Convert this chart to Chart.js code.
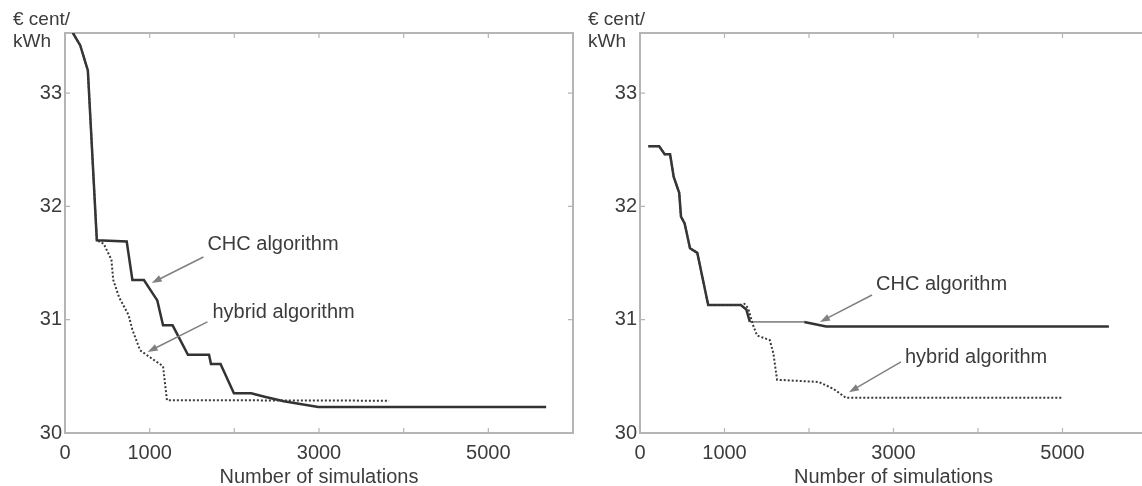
<!DOCTYPE html>
<html lang="en">
<head>
<meta charset="UTF-8">
<title>CHC vs hybrid algorithm</title>
<script src="https://cdn.jsdelivr.net/npm/chart.js"></script>
<style>
  html, body { margin: 0; padding: 0; background: #fff; overflow: hidden; }
  #wrap { position: relative; width: 1142px; height: 486px; overflow: hidden; }
  canvas { position: absolute; top: 0; }
  #leftChart { left: 0; }
  #rightChart { left: 575px; }
</style>
</head>
<body>
<div id="wrap">
  <canvas id="leftChart" width="578" height="492"></canvas>
  <canvas id="rightChart" width="580" height="492"></canvas>
</div>
<script>
// values (x = number of simulations, y = euro cent / kWh)
const leftChcX = [94, 180, 270, 376, 729, 796, 932, 1090, 1158, 1271, 1452, 1701, 1724, 1837, 1995, 2199, 2357, 2584, 2991, 5683];
const leftChcY = [33.53, 33.42, 33.2, 31.70, 31.69, 31.35, 31.35, 31.17, 30.95, 30.95, 30.69, 30.69, 30.61, 30.61, 30.35, 30.35, 30.32, 30.28, 30.23, 30.23];
const leftHybX = [94, 180, 270, 376, 457, 548, 570, 638, 751, 796, 887, 1000, 1158, 1204, 3828];
const leftHybY = [33.53, 33.42, 33.2, 31.70, 31.67, 31.53, 31.35, 31.2, 31.04, 30.91, 30.73, 30.67, 30.59, 30.29, 30.285];

const rightChcX = [99, 227, 292, 356, 399, 464, 485, 528, 592, 678, 807, 1193, 1258, 1300, 1944, 2202, 5549];
const rightChcY = [32.53, 32.53, 32.46, 32.46, 32.26, 32.12, 31.91, 31.85, 31.63, 31.59, 31.13, 31.13, 31.09, 30.98, 30.98, 30.94, 30.94];
const rightHybX = [99, 227, 292, 356, 399, 464, 485, 528, 592, 678, 807, 1193, 1236, 1280, 1343, 1386, 1536, 1579, 1622, 2116, 2288, 2438, 4991];
const rightHybY = [32.53, 32.53, 32.46, 32.46, 32.26, 32.12, 31.91, 31.85, 31.63, 31.59, 31.13, 31.13, 31.14, 31.10, 30.94, 30.86, 30.82, 30.70, 30.47, 30.45, 30.39, 30.31, 30.31];

const xLabels = [0, 1000, 3000, 5000];
const yLabels = [30, 31, 32, 33];
const unitLines = ['€ cent/', 'kWh'];
const xTitle = 'Number of simulations';

// annotation placement (data coordinates)
const leftNotes = [
  { text: 'CHC algorithm', at: [1682, 31.66], from: [1635, 31.553], to: [1024, 31.324] },
  { text: 'hybrid algorithm', at: [1741, 31.06], from: [1682, 30.98], to: [976, 30.715] }
];
const rightNotes = [
  { text: 'CHC algorithm', at: [2793, 31.31], from: [2746, 31.218], to: [2130, 30.98] },
  { text: 'hybrid algorithm', at: [3136, 30.67], from: [3089, 30.627], to: [2473, 30.36] }
];

const FONT = '"Liberation Sans", Arial, sans-serif';
Chart.defaults.font.family = FONT;
Chart.defaults.color = '#3c3c3c';

function pts(xs, ys) {
  return xs.map((x, i) => ({ x: x, y: ys[i] }));
}

// box round the plot with small inward ticks
const framePlugin = {
  id: 'frame',
  beforeDatasetsDraw(chart) {
    const { ctx, chartArea: a, scales: { x, y } } = chart;
    ctx.save();
    ctx.strokeStyle = '#b5b5b5';
    ctx.lineWidth = 2;
    ctx.strokeRect(a.left, a.top, a.right - a.left, a.bottom - a.top);
    ctx.lineWidth = 1.2;
    ctx.beginPath();
    x.ticks.forEach(t => {
      const px = x.getPixelForValue(t.value);
      ctx.moveTo(px, a.top); ctx.lineTo(px, a.top + 5);
      ctx.moveTo(px, a.bottom); ctx.lineTo(px, a.bottom - 5);
    });
    y.ticks.forEach(t => {
      const py = y.getPixelForValue(t.value);
      ctx.moveTo(a.left, py); ctx.lineTo(a.left + 5, py);
      ctx.moveTo(a.right, py); ctx.lineTo(a.right - 5, py);
    });
    ctx.stroke();
    ctx.restore();
  },
  afterDatasetsDraw(chart, args, opts) {
    const { ctx, chartArea: a, scales: { x, y } } = chart;
    ctx.save();
    // unit label above the y axis
    ctx.fillStyle = '#3c3c3c';
    ctx.font = '19px ' + FONT;
    ctx.textAlign = 'left';
    ctx.textBaseline = 'middle';
    ctx.fillText(unitLines[0], a.left - 52, 20);
    ctx.fillText(unitLines[1], a.left - 52, 42);

    (opts.notes || []).forEach(n => {
      ctx.font = '20px ' + FONT;
      ctx.fillStyle = '#3c3c3c';
      ctx.fillText(n.text, x.getPixelForValue(n.at[0]), y.getPixelForValue(n.at[1]));
      const x0 = x.getPixelForValue(n.from[0]), y0 = y.getPixelForValue(n.from[1]);
      const x1 = x.getPixelForValue(n.to[0]), y1 = y.getPixelForValue(n.to[1]);
      const ang = Math.atan2(y1 - y0, x1 - x0);
      ctx.strokeStyle = '#808080';
      ctx.fillStyle = '#808080';
      ctx.lineWidth = 1.5;
      ctx.beginPath();
      ctx.moveTo(x0, y0);
      ctx.lineTo(x1 - 6 * Math.cos(ang), y1 - 6 * Math.sin(ang));
      ctx.stroke();
      ctx.beginPath();
      ctx.moveTo(x1, y1);
      ctx.lineTo(x1 - 10 * Math.cos(ang) + 3.5 * Math.sin(ang), y1 - 10 * Math.sin(ang) - 3.5 * Math.cos(ang));
      ctx.lineTo(x1 - 10 * Math.cos(ang) - 3.5 * Math.sin(ang), y1 - 10 * Math.sin(ang) + 3.5 * Math.cos(ang));
      ctx.closePath();
      ctx.fill();
    });
    ctx.restore();
  }
};

function makeChart(id, chc, hyb, notes, padRight, thinFrom) {
  const ctx = document.getElementById(id).getContext('2d');
  return new Chart(ctx, {
    type: 'line',
    data: {
      datasets: [
        {
          label: 'hybrid algorithm',
          data: hyb,
          borderColor: '#3a3a3a',
          borderWidth: 2,
          borderDash: [2, 2],
          pointRadius: 0,
          tension: 0
        },
        {
          label: 'CHC algorithm',
          data: chc,
          borderColor: '#333',
          borderWidth: 2.5,
          pointRadius: 0,
          tension: 0,
          segment: {
            borderWidth: c => (thinFrom !== null && c.p0DataIndex === thinFrom) ? 1 : 2.5
          }
        }
      ]
    },
    options: {
      responsive: false,
      devicePixelRatio: 1,
      animation: false,
      layout: { padding: { top: 33, right: padRight, left: 0, bottom: 0 } },
      plugins: {
        legend: { display: false },
        tooltip: { enabled: false },
        frame: { notes: notes }
      },
      scales: {
        x: {
          type: 'linear',
          min: 0,
          max: 6000,
          grid: { display: false, drawTicks: false },
          border: { display: false },
          ticks: {
            stepSize: 1000,
            padding: 8,
            maxRotation: 0,
            autoSkip: false,
            font: { size: 20 },
            callback: v => xLabels.includes(v) ? String(v) : ''
          },
          title: { display: true, text: xTitle, font: { size: 20 }, padding: { top: 0, bottom: 3 } },
          afterFit: s => { s.height = 59; s.paddingLeft = 0; s.paddingRight = 0; }
        },
        y: {
          min: 30,
          max: 33.53,
          grid: { display: false, drawTicks: false },
          border: { display: false },
          ticks: {
            stepSize: 1,
            includeBounds: false,
            padding: 3,
            font: { size: 20 },
            callback: v => yLabels.includes(v) ? String(v) : ''
          },
          afterFit: s => { s.width = 65; s.paddingTop = 0; s.paddingBottom = 0; }
        }
      }
    },
    plugins: [framePlugin]
  });
}

makeChart('leftChart', pts(leftChcX, leftChcY), pts(leftHybX, leftHybY), leftNotes, 5, null);
makeChart('rightChart', pts(rightChcX, rightChcY), pts(rightHybX, rightHybY), rightNotes, 8, 13);
</script>
</body>
</html>
